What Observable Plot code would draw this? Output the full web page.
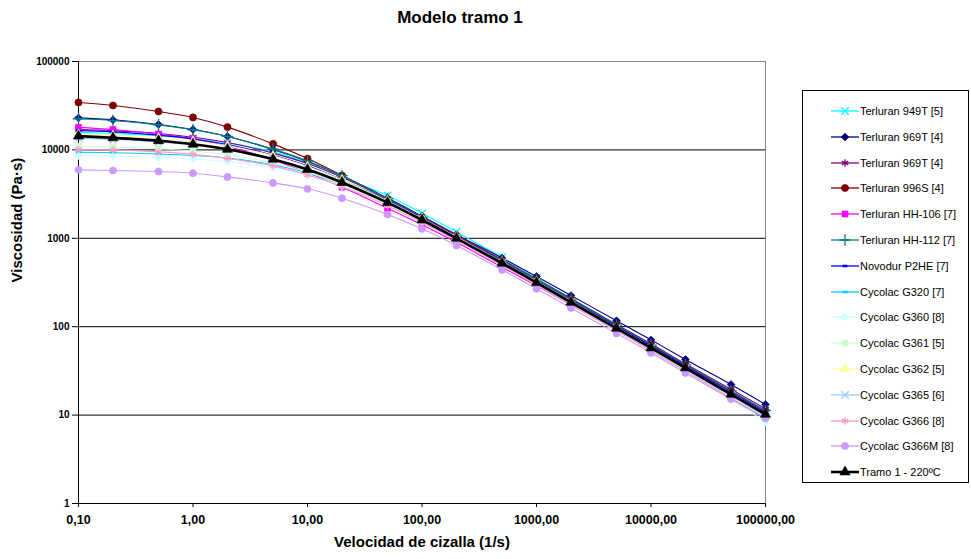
<!DOCTYPE html>
<html>
<head>
<meta charset="utf-8">
<script src="https://cdn.jsdelivr.net/npm/d3@7"></script>
<script src="https://cdn.jsdelivr.net/npm/@observablehq/plot@0.6"></script>
<style>
  body { margin: 0; background: #fff; font-family: "Liberation Sans", Arial, sans-serif; }
  #wrap { position: relative; width: 971px; height: 559px; overflow: hidden; background: #fff; }
  #chart { position: absolute; left: 0; top: 0; }
  #title { position: absolute; top: 8px; left: 0; width: 920px; text-align: center; font-weight: bold; font-size: 17px; color: #000; }
  #legend { position: absolute; left: 802px; top: 90px; width: 167px; height: 393px; border: 1px solid #000; box-sizing: border-box; background: #fff; }
  .row { position: absolute; left: 0; height: 16px; width: 165px; }
  .row svg { position: absolute; left: 26px; top: 0; }
  .row span { position: absolute; left: 57px; top: 1px; font-size: 11px; line-height: 14px; color: #000; white-space: nowrap; }
</style>
</head>
<body>
<div id="wrap">
  <div id="chart"></div>
  <div id="title">Modelo tramo 1</div>
  <div id="legend"></div>
</div>
<script>
// ---- data ----
const shearRates = [0.1, 0.2, 0.5, 1, 2, 5, 10, 20, 50, 100, 200, 500, 1000, 2000, 5000, 10000, 20000, 50000, 100000];

const terluran949T  = [15800, 15300, 14500, 13400, 12000, 9500, 7100, 4900, 3050, 1920, 1180, 610, 355, 210, 104, 61, 35.5, 17.5, 10.0];
const terluran969Ta = [23000, 21900, 19400, 17000, 14200, 10100, 7400, 5100, 2850, 1780, 1100, 600, 370, 225, 117, 71, 42.6, 22.2, 13.2];
const terluran969Tb = [17000, 16500, 15300, 13900, 12100, 9200, 7000, 4900, 2800, 1760, 1090, 575, 345, 208, 106, 64, 38, 19.6, 11.8];
const terluran996S  = [34400, 31800, 27200, 23300, 18100, 11700, 7970, 5130, 2750, 1720, 1060, 560, 340, 205, 104, 62, 37, 18.7, 11.2];
const terluranHH106 = [18000, 17000, 15100, 13400, 11000, 7700, 5500, 3800, 2180, 1420, 900, 470, 290, 176, 91, 55, 33, 16.6, 9.8];
const terluranHH112 = [22500, 21500, 19200, 16900, 14200, 10200, 7500, 5100, 2800, 1720, 1050, 560, 340, 205, 104, 62, 37, 18.8, 11.3];
const novodurP2HE   = [16500, 16000, 14700, 13300, 11500, 8700, 6600, 4600, 2700, 1700, 1050, 545, 330, 198, 101, 60.5, 36, 18.2, 10.8];
const cycolacG320   = [9400, 9300, 9000, 8650, 8100, 6800, 5500, 4100, 2500, 1600, 1000, 520, 312, 186, 94, 55, 32, 15.7, 9.0];
const cycolacG360   = [8600, 8500, 8200, 7900, 7400, 6300, 5200, 3900, 2400, 1530, 960, 500, 298, 177, 89, 52, 30, 14.8, 8.4];
const cycolacG361   = [11000, 10800, 10300, 9700, 8800, 7100, 5600, 4100, 2450, 1560, 980, 510, 305, 183, 92.5, 55, 32.2, 16.0, 9.5];
const cycolacG362   = [15000, 14600, 13700, 12600, 11100, 8600, 6500, 4600, 2650, 1680, 1040, 540, 325, 194, 98, 58.5, 34.5, 17.2, 10.2];
const cycolacG365   = [13500, 13100, 12300, 11400, 10100, 7900, 6100, 4350, 2580, 1650, 1020, 530, 318, 190, 96, 57, 33.6, 16.8, 9.9];
const cycolacG366   = [10100, 10000, 9500, 8900, 8000, 6600, 5200, 3850, 2330, 1500, 950, 495, 298, 178, 90, 53.5, 31.5, 15.6, 9.3];
const cycolacG366M  = [5950, 5850, 5700, 5450, 4950, 4230, 3630, 2840, 1860, 1280, 829, 440, 268, 163, 84, 50.5, 30, 15.2, 9.2];
const tramo1_220C   = [14300, 13700, 12700, 11600, 10150, 7850, 6000, 4280, 2530, 1610, 1000, 522, 315, 189, 96, 57.5, 34.2, 17.2, 10.2];

const seriesNames = [
  "Terluran 949T [5]", "Terluran 969T [4]", "Terluran 969T [4]", "Terluran 996S [4]",
  "Terluran HH-106 [7]", "Terluran HH-112 [7]", "Novodur P2HE [7]", "Cycolac G320 [7]",
  "Cycolac G360 [8]", "Cycolac G361 [5]", "Cycolac G362 [5]", "Cycolac G365 [6]",
  "Cycolac G366 [8]", "Cycolac G366M [8]", "Tramo 1 - 220ºC"
];
const seriesValues = [
  terluran949T, terluran969Ta, terluran969Tb, terluran996S, terluranHH106, terluranHH112,
  novodurP2HE, cycolacG320, cycolacG360, cycolacG361, cycolacG362, cycolacG365,
  cycolacG366, cycolacG366M, tramo1_220C
];

const xTicks = [0.1, 1, 10, 100, 1000, 10000, 100000];
const yTicks = [1, 10, 100, 1000, 10000, 100000];
const xLabel = "Velocidad de cizalla (1/s)";
const yLabel = "Viscosidad (Pa·s)";

// ---- styles ----
const dashSymbol = {
  draw(ctx, size) {
    const r = Math.sqrt(size / Math.PI);
    ctx.moveTo(-r, -1); ctx.lineTo(r, -1); ctx.lineTo(r, 1); ctx.lineTo(-r, 1); ctx.closePath();
  }
};
const diamondSymbol = {
  draw(ctx, size) {
    const r = Math.sqrt(size / Math.PI) * 1.15;
    ctx.moveTo(0, -r); ctx.lineTo(r, 0); ctx.lineTo(0, r); ctx.lineTo(-r, 0); ctx.closePath();
  }
};
const styles = [
  {color: "#00FFFF", symbol: "times",       filled: false, r: 3.5},
  {color: "#000080", symbol: diamondSymbol, filled: true,  r: 3.4},
  {color: "#800080", symbol: "asterisk",    filled: false, r: 3.5},
  {color: "#800000", symbol: "circle",      filled: true,  r: 3.6},
  {color: "#FF00FF", symbol: "square",      filled: true,  r: 3.4},
  {color: "#008080", symbol: "plus",        filled: false, r: 3.8},
  {color: "#0000FF", symbol: dashSymbol,    filled: true,  r: 2.2},
  {color: "#00CCFF", symbol: dashSymbol,    filled: true,  r: 2.6},
  {color: "#CCFFFF", symbol: diamondSymbol, filled: true,  r: 3.4},
  {color: "#CCFFCC", symbol: "square",      filled: true,  r: 3.4},
  {color: "#FFFF99", symbol: "triangle",    filled: true,  r: 3.4},
  {color: "#99CCFF", symbol: "times",       filled: false, r: 3.5},
  {color: "#FF99CC", symbol: "asterisk",    filled: false, r: 3.5},
  {color: "#CC99FF", symbol: "circle",      filled: true,  r: 3.6},
  {color: "#000000", symbol: "triangle",    filled: true,  r: 3.8, width: 2.6}
];

const marks = [
  Plot.ruleY(yTicks.filter(d => d > 1 && d < 100000), {stroke: "#000", strokeWidth: 1}),
  Plot.frame({stroke: "#808080", strokeWidth: 1}),
  Plot.ruleX([0.1], {stroke: "#000"}),
  Plot.ruleY([1], {stroke: "#000"}),
  Plot.axisY({ticks: yTicks, tickSize: 6, tickPadding: 3, tickFormat: d => String(d), fontSize: 10, fontWeight: "bold", label: null}),
  Plot.axisX({ticks: xTicks, tickSize: 4, tickPadding: 8, tickFormat: d => d.toFixed(2).replace(".", ","), fontSize: 12.5, fontWeight: "bold", label: null}),
  Plot.text([xLabel], {text: d => d, frameAnchor: "bottom", dy: 43, fontSize: 15, fontWeight: "bold"}),
  Plot.text([yLabel], {text: d => d, frameAnchor: "left", dx: -61, rotate: -90, fontSize: 15, fontWeight: "bold"})
];

seriesValues.forEach((vals, i) => {
  const st = styles[i];
  const table = shearRates.map((x, j) => ({x, y: vals[j]}));
  marks.push(Plot.line(table, {x: "x", y: "y", stroke: st.color, strokeWidth: st.width || 1.1, curve: "catmull-rom"}));
  marks.push(Plot.dot(table, {
    x: "x", y: "y", symbol: st.symbol, r: st.r,
    fill: st.filled ? st.color : "none", stroke: st.color, strokeWidth: st.filled ? 0.6 : 1.3
  }));
});

const chart = Plot.plot({
  width: 971,
  height: 559,
  marginLeft: 78,
  marginRight: 206,
  marginTop: 61,
  marginBottom: 56,
  style: {fontFamily: "'Liberation Sans', Arial, sans-serif", color: "#000", background: "transparent"},
  x: {type: "log", domain: [0.1, 100000]},
  y: {type: "log", domain: [1, 100000]},
  marks
});
document.getElementById("chart").appendChild(chart);

// ---- legend ----
const d3sym = {times: d3.symbolTimes, asterisk: d3.symbolAsterisk,
  circle: d3.symbolCircle, square: d3.symbolSquare, plus: d3.symbolPlus, triangle: d3.symbolTriangle};
const legend = d3.select("#legend");
seriesNames.forEach((name, i) => {
  const st = styles[i];
  const row = legend.append("div").attr("class", "row").style("top", (20 + i * 25.8 - 8) + "px");
  const svg = row.append("svg").attr("width", 34).attr("height", 16);
  svg.append("line").attr("x1", 2).attr("x2", 30).attr("y1", 8).attr("y2", 8)
    .attr("stroke", st.color).attr("stroke-width", st.width || 1.3);
  const type = typeof st.symbol === "string" ? d3sym[st.symbol] : st.symbol;
  svg.append("path").attr("transform", "translate(16,8)")
    .attr("d", d3.symbol().type(type).size(Math.PI * st.r * st.r)())
    .attr("fill", st.filled ? st.color : "none").attr("stroke", st.color)
    .attr("stroke-width", st.filled ? 0.6 : 1.3);
  row.append("span").text(name);
});
</script>
</body>
</html>
